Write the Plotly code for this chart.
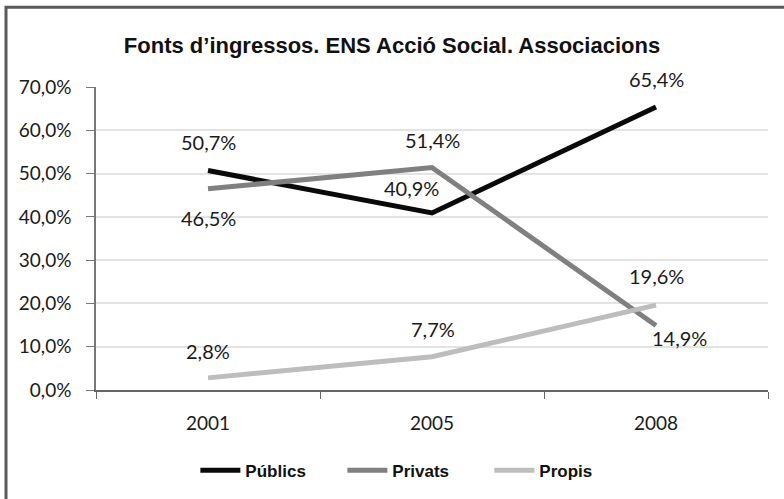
import plotly.graph_objects as go

years = ["2001", "2005", "2008"]
publics = [50.7, 40.9, 65.4]
privats = [46.5, 51.4, 14.9]
propis = [2.8, 7.7, 19.6]
series_names = ["Públics", "Privats", "Propis"]
y_ticks = [0, 10, 20, 30, 40, 50, 60, 70]
y_tick_labels = ["0,0%", "10,0%", "20,0%", "30,0%", "40,0%", "50,0%", "60,0%", "70,0%"]
title_text = "<b>Fonts d’ingressos. ENS Acció Social. Associacions</b>"

colors = ["#0a0a0a", "#808080", "#bdbdbd"]

def fmt(v):
    return f"{v:.1f}".replace(".", ",") + "%"

fig = go.Figure()
for name, vals, col in zip(series_names, [publics, privats, propis], colors):
    fig.add_trace(go.Scatter(x=years, y=vals, mode="lines", name=name,
                             line=dict(color=col, width=5)))

# label offsets (pixels) per series per point
offsets = {
    0: [(0, 29), (-21, 25), (0, 28)],
    1: [(0, -29), (0, 28), (23, -12)],
    2: [(0, 27), (1, 28), (0, 29)],
}
for si, vals in enumerate([publics, privats, propis]):
    for pi, v in enumerate(vals):
        dx, dy = offsets[si][pi]
        fig.add_annotation(x=pi, y=v, text=fmt(v), showarrow=False,
                           xshift=dx, yshift=dy,
                           font=dict(family="Lato", size=20, color="#1a1a1a"))

fig.update_layout(
    width=784, height=499,
    margin=dict(l=96, r=16, t=87, b=108),
    paper_bgcolor="white", plot_bgcolor="white",
    title=dict(text=title_text, x=0.5, xanchor="center", y=0.91, yanchor="middle",
               font=dict(family="Liberation Sans", size=22, color="#111")),
    showlegend=True,
    legend=dict(orientation="h", x=0.476, xanchor="center", y=-0.262, yanchor="middle",
                font=dict(family="Liberation Sans", size=17, color="#111", weight="bold"),
                entrywidth=92, itemwidth=40),
    font=dict(family="Lato"),
)
fig.update_yaxes(range=[0, 70], tickvals=y_ticks, ticktext=y_tick_labels,
                 showgrid=True, gridcolor="#e3e3e3", gridwidth=1.5,
                 showline=True, linecolor="#777", linewidth=1.5,
                 ticks="outside", ticklen=8, tickcolor="#777",
                 ticklabelstandoff=11,
                 tickfont=dict(family="Lato", size=19, color="#1a1a1a"),
                 zeroline=False, fixedrange=True)
fig.update_xaxes(type="category", range=[-0.5, 2.5], showline=True, linecolor="#666", linewidth=2,
                 ticks="outside", tickson="boundaries", ticklen=7, tickcolor="#666",
                 showgrid=False, tickangle=0, ticklabelstandoff=15,
                 tickfont=dict(family="Lato", size=19, color="#1a1a1a"))

# outer frame (left and top visible, right/bottom beyond page)
fig.add_shape(type="rect", xref="paper", yref="paper",
              x0=(6 - 96) / 672, x1=1.2, y0=-0.6, y1=1 + (87 - 7) / 304,
              line=dict(color="#5a5a5a", width=3), layer="below")

fig.write_html("out.html")
